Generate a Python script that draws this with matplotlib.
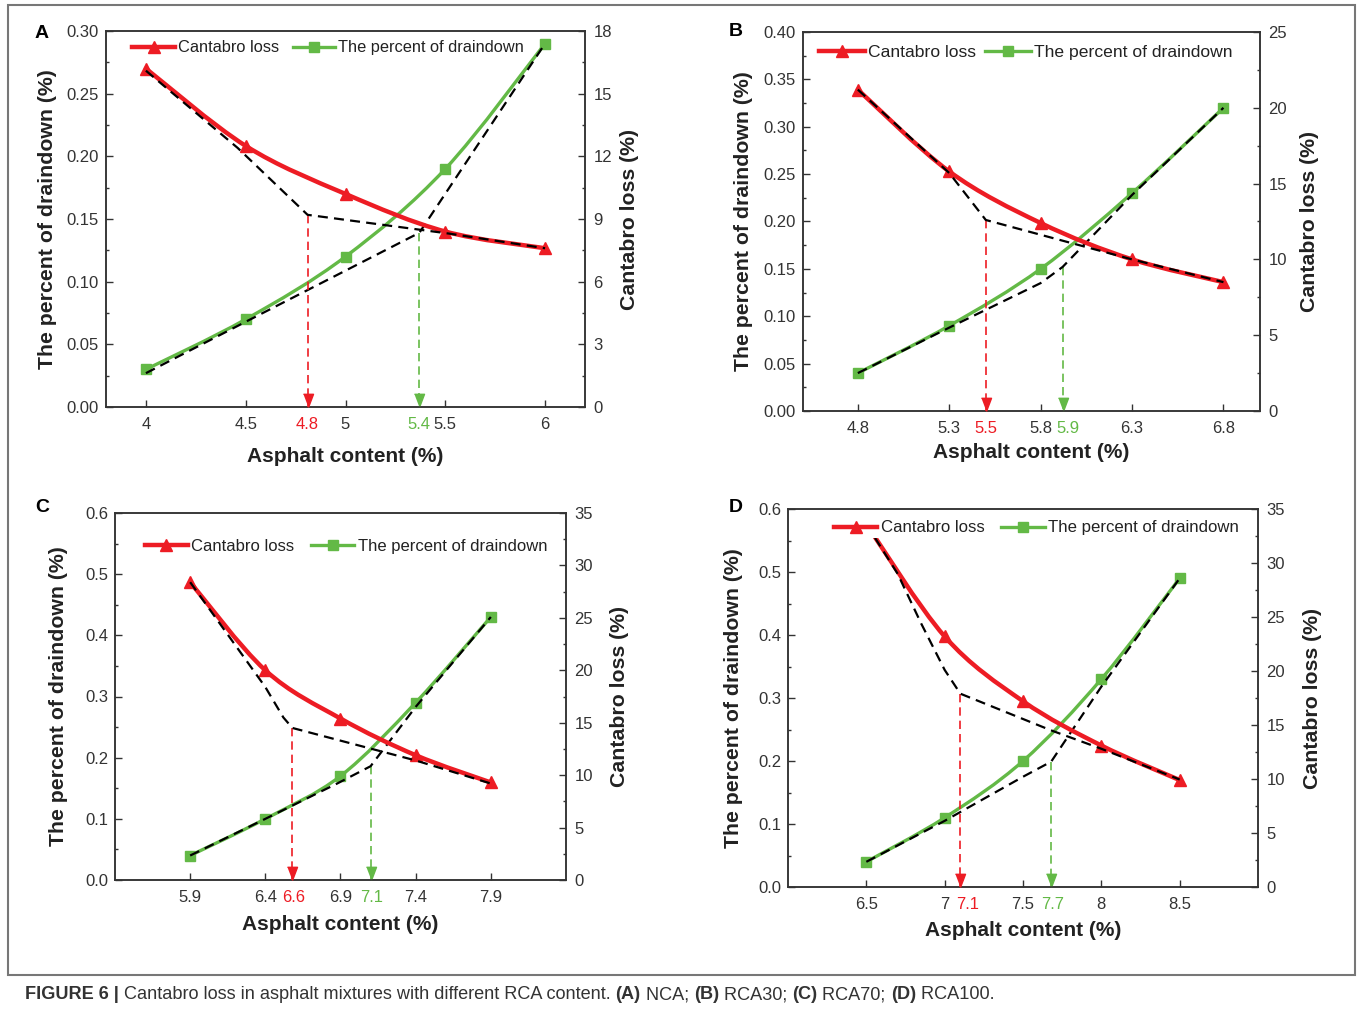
import numpy as np
import matplotlib.pyplot as plt
from matplotlib.path import Path
from matplotlib.patches import PathPatch, Rectangle
from matplotlib.ticker import MultipleLocator, FormatStrFormatter
from matplotlib.lines import Line2D

plt.rcParams['font.family'] = ['Liberation Sans', 'DejaVu Sans']

RED = '#ED1C24'
GREEN = '#63B946'
DARK = '#333333'

# ---- panel A (NCA) ----
a_x = [4, 4.5, 5, 5.5, 6]
a_loss = [16.2, 12.5, 10.2, 8.4, 7.6]
a_drain = [0.03, 0.07, 0.12, 0.19, 0.29]
a_loss_dash_x = [4, 4.46, 4.81, 5.52, 6]
a_loss_dash_y = [16.1, 12.4, 9.2, 8.3, 7.6]
a_drain_dash_x = [4, 4.5, 5.37, 6]
a_drain_dash_y = [0.027, 0.068, 0.139, 0.29]
a_opt = [4.81, 9.2, 5.37, 0.139]  # red x, red top (loss), green x, green top (drain)
a_opt_labels = ['4.8', '5.4']

# ---- panel B (RCA30) ----
b_x = [4.8, 5.3, 5.8, 6.3, 6.8]
b_loss = [21.2, 15.8, 12.4, 10.0, 8.5]
b_drain = [0.04, 0.09, 0.15, 0.23, 0.32]
b_loss_dash_x = [4.8, 5.3, 5.5, 6.3, 6.8]
b_loss_dash_y = [21.2, 15.7, 12.6, 10.0, 8.5]
b_drain_dash_x = [4.8, 5.3, 5.8, 5.92, 6.3, 6.8]
b_drain_dash_y = [0.04, 0.088, 0.135, 0.152, 0.228, 0.32]
b_opt = [5.5, 12.6, 5.92, 0.152]
b_opt_labels = ['5.5', '5.9']

# ---- panel C (RCA70) ----
c_x = [5.9, 6.4, 6.9, 7.4, 7.9]
c_loss = [28.4, 20.0, 15.4, 11.9, 9.3]
c_drain = [0.04, 0.10, 0.17, 0.29, 0.43]
c_loss_dash_x = [5.9, 6.29, 6.4, 6.52, 6.58, 7.4, 7.9]
c_loss_dash_y = [28.4, 20.6, 18.4, 15.5, 14.5, 11.4, 9.2]
c_drain_dash_x = [5.9, 6.4, 6.88, 7.1, 7.4, 7.9]
c_drain_dash_y = [0.04, 0.10, 0.158, 0.186, 0.283, 0.43]
c_opt = [6.58, 14.5, 7.1, 0.186]
c_opt_labels = ['6.6', '7.1']

# ---- panel D (RCA100) ----
d_x = [6.5, 7, 7.5, 8, 8.5]
d_loss = [33.6, 23.2, 17.2, 13.1, 9.9]
d_drain = [0.04, 0.11, 0.20, 0.33, 0.49]
d_loss_dash_x = [6.5, 6.7, 6.85, 7.0, 7.1, 7.68, 8.0, 8.5]
d_loss_dash_y = [33.6, 29.0, 24.4, 20.1, 17.9, 14.5, 12.8, 9.95]
d_drain_dash_x = [6.5, 7.0, 7.5, 7.68, 8.0, 8.5]
d_drain_dash_y = [0.04, 0.105, 0.175, 0.199, 0.318, 0.49]
d_opt = [7.1, 17.9, 7.68, 0.199]
d_opt_labels = ['7.1', '7.7']

caption = [("FIGURE 6 |", 'bold'),
           (" Cantabro loss in asphalt mixtures with different RCA content. ", 'normal'),
           ("(A)", 'bold'), (" NCA; ", 'normal'),
           ("(B)", 'bold'), (" RCA30; ", 'normal'),
           ("(C)", 'bold'), (" RCA70; ", 'normal'),
           ("(D)", 'bold'), (" RCA100.", 'normal')]

W, H = 1357, 1011
fig = plt.figure(figsize=(W / 100, H / 100), dpi=100)


def box(l, r, t, b):
    return [l / W, 1 - b / H, (r - l) / W, (b - t) / H]


def smooth(ax, x, y, color, lw):
    # smooth curve through the points as a bezier path
    p = np.column_stack([x, y]).astype(float)
    e = np.vstack([p[0], p, p[-1]])
    verts = [p[0]]
    codes = [Path.MOVETO]
    for i in range(len(p) - 1):
        p0, p1, p2, p3 = e[i], e[i + 1], e[i + 2], e[i + 3]
        verts += [p1 + (p2 - p0) / 6, p2 - (p3 - p1) / 6, p2]
        codes += [Path.CURVE4] * 3
    ax.add_patch(PathPatch(Path(verts, codes), fill=False, edgecolor=color,
                           lw=lw, capstyle='round', zorder=2))


head = [(-0.38, 1), (0.38, 1), (0, 0)]


def arrow(ax, x, top, color, label, dx):
    ax.plot([x, x], [top, 0.0], ls=(0, (5, 3)), color=color, lw=1.2, zorder=3)
    ax.plot([x], [0], marker=head, ms=19, color=color, ls='none',
            clip_on=False, zorder=4)
    ax.annotate(label, xy=(x, 0), xycoords=('data', 'axes fraction'),
                xytext=(dx, -7), textcoords='offset points', ha='center',
                va='top', fontsize=12, color=color)


def panel(rect, letter, letter_xy, x, loss, drain, ldx, ldy, ddx, ddy, opt,
          opt_labels, label_dx, xlim, dlim, dstep, dfmt, llim, lstep,
          leg_xy, leg_fs, leg_cs, lab_coords):
    ax = fig.add_axes(rect)
    ax2 = ax.twinx()

    smooth(ax, x, drain, GREEN, 2.4)
    ax.plot(x, drain, ls='none', marker='s', ms=7, color=GREEN, zorder=3)
    smooth(ax2, x, loss, RED, 3.2)
    ax2.plot(x, loss, ls='none', marker='^', ms=9, color=RED, zorder=3)

    ax.plot(ddx, ddy, ls=(0, (4.5, 2.8)), color='black', lw=1.6, zorder=4)
    ax2.plot(ldx, ldy, ls=(0, (4.5, 2.8)), color='black', lw=1.6, zorder=4)

    arrow(ax2, opt[0], opt[1], RED, opt_labels[0], label_dx[0])
    arrow(ax, opt[2], opt[3], GREEN, opt_labels[1], label_dx[1])

    ax.set_xlim(*xlim)
    ax.set_ylim(*dlim)
    ax2.set_ylim(*llim)
    ax.set_xticks(x)
    ax.set_xticklabels([('%g' % t) for t in x])

    ax.yaxis.set_major_locator(MultipleLocator(dstep))
    ax.yaxis.set_minor_locator(MultipleLocator(dstep / 2))
    ax.yaxis.set_major_formatter(FormatStrFormatter(dfmt))
    ax2.yaxis.set_major_locator(MultipleLocator(lstep))
    ax2.yaxis.set_minor_locator(MultipleLocator(lstep / 2))

    ax.tick_params(axis='both', which='major', direction='in', length=5,
                   width=1, labelsize=12, colors=DARK, pad=5)
    ax.tick_params(axis='x', pad=7)
    ax.tick_params(axis='y', which='minor', direction='in', length=2.5,
                   width=1, colors=DARK)
    ax2.tick_params(axis='y', which='major', direction='in', length=5,
                    width=1, labelsize=12, colors=DARK, pad=6)
    ax2.tick_params(axis='y', which='minor', direction='in', length=2.5,
                    width=1, colors=DARK)
    for a in (ax, ax2):
        for s in a.spines.values():
            s.set_color(DARK)
            s.set_linewidth(1.1)

    ax.set_ylabel('The percent of draindown (%)', fontsize=15.3,
                  fontweight='bold', color='#222222')
    ax2.set_ylabel('Cantabro loss (%)', fontsize=15.3, fontweight='bold',
                   color='#222222')
    ax.set_xlabel('Asphalt content (%)', fontsize=15, fontweight='bold',
                  color='#222222', va='top')
    ax.yaxis.set_label_coords(lab_coords[0], 0.5)
    ax2.yaxis.set_label_coords(lab_coords[1], 0.5)
    ax.xaxis.set_label_coords(0.5, lab_coords[2])

    handles = [Line2D([], [], color=RED, lw=3.2, marker='^', ms=9),
               Line2D([], [], color=GREEN, lw=2.4, marker='s', ms=7)]
    leg = ax2.legend(handles, ['Cantabro loss', 'The percent of draindown'],
                     loc='center left', bbox_to_anchor=leg_xy, ncol=2,
                     fontsize=leg_fs, frameon=True, facecolor='white',
                     edgecolor='none', framealpha=1, fancybox=False,
                     borderpad=0.15, borderaxespad=0, handlelength=2.6,
                     handletextpad=0.2, columnspacing=leg_cs)
    for t in leg.get_texts():
        t.set_color('#222222')

    fig.text(letter_xy[0] / W, 1 - letter_xy[1] / H, letter, fontsize=14,
             fontweight='bold', ha='center', va='center')


panel(box(106, 585, 31, 407), 'A', (42, 33), a_x, a_loss, a_drain,
      a_loss_dash_x, a_loss_dash_y, a_drain_dash_x, a_drain_dash_y, a_opt,
      a_opt_labels, (0, 0), (3.8, 6.2), (0, 0.30), 0.05, '%.2f', (0, 18), 3,
      (0.05, 0.955), 11.8, 0.8, (-0.102, 1.073, -0.106))

panel(box(803, 1260, 32, 411), 'B', (736, 32), b_x, b_loss, b_drain,
      b_loss_dash_x, b_loss_dash_y, b_drain_dash_x, b_drain_dash_y, b_opt,
      b_opt_labels, (0, 4), (4.5, 7.0), (0, 0.40), 0.05, '%.2f', (0, 25), 5,
      (0.03, 0.946), 12.6, 0.5, (-0.109, 1.0875, -0.084))

panel(box(115, 566, 513, 880), 'C', (42, 508), c_x, c_loss, c_drain,
      c_loss_dash_x, c_loss_dash_y, c_drain_dash_x, c_drain_dash_y, c_opt,
      c_opt_labels, (1, 1), (5.4, 8.4), (0, 0.6), 0.1, '%.1f', (0, 35), 5,
      (0.06, 0.909), 12.0, 1.0, (-0.104, 1.098, -0.095))

panel(box(788, 1258, 509, 887), 'D', (736, 508), d_x, d_loss, d_drain,
      d_loss_dash_x, d_loss_dash_y, d_drain_dash_x, d_drain_dash_y, d_opt,
      d_opt_labels, (5, 1), (6.0, 9.0), (0, 0.6), 0.1, '%.1f', (0, 35), 5,
      (0.092, 0.95), 12.1, 1.0, (-0.096, 1.096, -0.091))

# frame around the figure
fig.add_artist(Rectangle((8 / W, 1 - 975 / H), (1355 - 8) / W, (975 - 5) / H,
                         transform=fig.transFigure, fill=False,
                         edgecolor='#777777', lw=1.5))

# caption with bold and normal pieces
renderer = fig.canvas.get_renderer()
cx = 25
for txt, wt in caption:
    t = fig.text(cx / W, 1 - 999 / H, txt, fontsize=13.1, fontweight=wt,
                 color='#333333', ha='left', va='baseline')
    cx += t.get_window_extent(renderer).width

fig.savefig('out.png', dpi=100)
